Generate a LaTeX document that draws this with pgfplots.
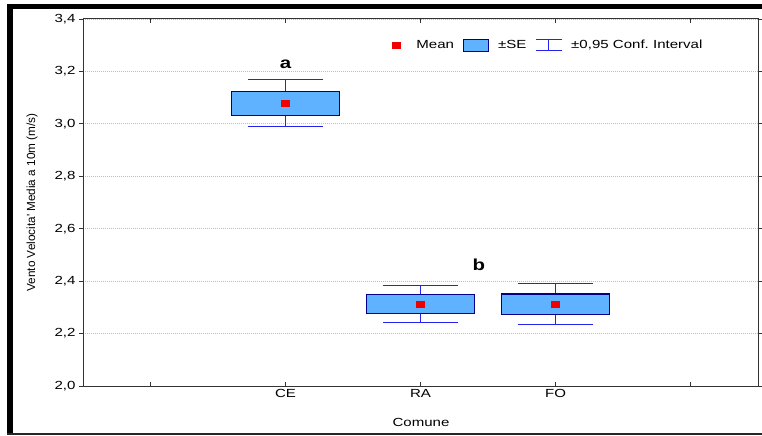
\documentclass[border=0pt]{standalone}
\usepackage{fontspec}
\setmainfont{Liberation Sans}[FakeStretch=1.28]
\newfontfamily\uprightlabel{Liberation Sans}
\usepackage{pgfplots}
\pgfplotsset{compat=1.18}
\usepgfplotslibrary{statistics}

\definecolor{boxfill}{RGB}{94,178,255}
\definecolor{boxline}{RGB}{0,0,140}
\definecolor{ciblue}{RGB}{35,35,235}
\definecolor{meanred}{RGB}{240,0,0}
\definecolor{gridgray}{RGB}{190,190,190}

\begin{document}
\begin{tikzpicture}
\useasboundingbox (0bp,0bp) rectangle (762bp,436bp);
% outer frame
\fill[black] (7bp,427bp) rectangle (762bp,432bp);
\fill[black] (7bp,2bp) rectangle (13bp,432bp);
\draw[black!85, line width=1.2bp] (7bp,2bp) -- (762bp,2bp);
\begin{axis}[
  at={(83bp,50bp)}, anchor=south west,
  width=675bp, height=367bp, scale only axis,
  xmin=-0.5, xmax=4.5, ymin=2.0, ymax=3.4,
  xtick={0,1,2,3,4}, xticklabels={,CE,RA,FO,},
  ytick={2.0,2.2,2.4,2.6,2.8,3.0,3.2,3.4},
  xtick align=inside, ytick align=outside,
  major tick length=4bp,
  tick style={black!80, line width=0.8bp},
  axis line style={black!80, line width=1bp},
  ymajorgrids,
  major grid style={gridgray, line width=0.8bp, dash pattern=on 1bp off 1bp},
  /pgf/number format/assume math mode=true,
  yticklabel style={/pgf/number format/.cd, fixed, fixed zerofill, precision=1, use comma},
  ticklabel style={font=\fontsize{11.8}{14}\selectfont},
  xlabel={Comune},
  xlabel style={at={(axis description cs:0.5007,-0.098)}, anchor=center, font=\fontsize{11.8}{14}\selectfont},
  ylabel={\uprightlabel Vento Velocita' Media a 10m (m/s)},
  ylabel style={at={(axis description cs:-0.0756,0.5)}, anchor=center, font=\fontsize{11.8}{14}\selectfont},
  boxplot/draw direction=y,
  boxplot/every box/.style={draw=boxline, fill=boxfill, line width=1.2bp},
  boxplot/every whisker/.style={draw=ciblue, line width=1bp},
  boxplot/every median/.style={draw=none},
  % whiskers: stem from the box edge and a cap, both in the interval colour
  boxplot/draw/lower whisker/.code={
    \draw[ciblue, line width=1bp]
      (boxplot box cs:\pgfplotsboxplotvalue{lower quartile},0.5) --
      (boxplot box cs:\pgfplotsboxplotvalue{lower whisker},0.5)
      (boxplot whisker cs:\pgfplotsboxplotvalue{lower whisker},0) --
      (boxplot whisker cs:\pgfplotsboxplotvalue{lower whisker},1);},
  boxplot/draw/upper whisker/.code={
    \draw[ciblue, line width=1bp]
      (boxplot box cs:\pgfplotsboxplotvalue{upper quartile},0.5) --
      (boxplot box cs:\pgfplotsboxplotvalue{upper whisker},0.5)
      (boxplot whisker cs:\pgfplotsboxplotvalue{upper whisker},0) --
      (boxplot whisker cs:\pgfplotsboxplotvalue{upper whisker},1);},
  legend style={draw=none, fill=none, at={(axis description cs:0.4533,0.929)}, anchor=west,
    font=\fontsize{11.8}{14}\selectfont, nodes={inner sep=0pt},
    /tikz/every odd column/.append style={column sep=9bp},
    /tikz/every even column/.append style={column sep=9bp}},
  legend columns=-1,
]
% CE, RA, FO: mean, +-SE box, +-0.95 confidence interval
\addplot[forget plot, ciblue, boxplot prepared={draw position=1,
  lower whisker=2.989, lower quartile=3.032, median=3.078,
  upper quartile=3.123, upper whisker=3.171,
  box extend=0.8, whisker extend=0.56}] coordinates {};
\addplot[forget plot, ciblue, boxplot prepared={draw position=2,
  lower whisker=2.243, lower quartile=2.278, median=2.312,
  upper quartile=2.350, upper whisker=2.384,
  box extend=0.8, whisker extend=0.56}] coordinates {};
\addplot[forget plot, ciblue, boxplot prepared={draw position=3,
  lower whisker=2.235, lower quartile=2.273, median=2.312,
  upper quartile=2.351, upper whisker=2.391,
  box extend=0.8, whisker extend=0.56}] coordinates {};
\addplot[forget plot, meanred, only marks, mark=square*, mark size=3.6bp,
  mark options={fill=meanred, draw=meanred, line width=0pt, yscale=0.85}]
  coordinates {(1,3.078) (2,2.312) (3,2.312)};

\node[anchor=base, font=\fontsize{16}{18}\selectfont\bfseries] at (axis cs:1,3.212) {a};
\node[anchor=base, font=\fontsize{16}{18}\selectfont\bfseries] at (axis cs:2.433,2.442) {b};

\addlegendimage{legend image code/.code={
  \fill[meanred] (0bp,-3.3bp) rectangle (8bp,3.3bp); \path[draw=none] (0bp,0bp) -- (15bp,0bp);}}
\addlegendentry{Mean}
\addlegendimage{legend image code/.code={
  \filldraw[fill=boxfill, draw=boxline, line width=1bp] (0bp,-6bp) rectangle (25bp,6bp);}}
\addlegendentry{±SE}
\addlegendimage{legend image code/.code={
  \draw[ciblue, line width=0.9bp] (0bp,5.5bp) -- (26bp,5.5bp) (13bp,5.5bp) -- (13bp,-5.5bp)
    (0bp,-5.5bp) -- (26bp,-5.5bp);}}
\addlegendentry{±0,95 Conf.\ Interval}
\end{axis}
\end{tikzpicture}
\end{document}
